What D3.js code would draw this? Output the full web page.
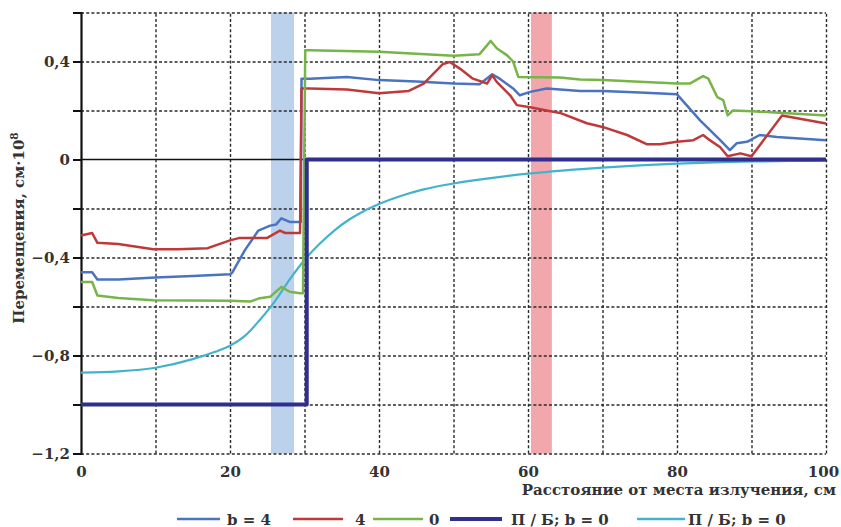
<!DOCTYPE html>
<html>
<head>
<meta charset="utf-8">
<script src="https://cdn.jsdelivr.net/npm/d3@7"></script>
<style>
  body { margin: 0; background: #fff; }
</style>
</head>
<body>
<svg width="841" height="527"></svg>
<script>
// series: [x, displacement]
const seriesB4 = [[0,-0.46],[1.5,-0.46],[2.2,-0.49],[5,-0.49],[10,-0.482],[15,-0.476],[20,-0.468],[20.3,-0.462],[22,-0.37],[23.8,-0.29],[25.4,-0.27],[26.2,-0.265],[26.9,-0.24],[28,-0.255],[29.5,-0.255],[29.6,0.33],[30.7,0.33],[35.7,0.337],[40,0.324],[45,0.318],[50,0.31],[53.5,0.307],[55.2,0.348],[56.2,0.33],[58,0.29],[58.9,0.262],[60.3,0.276],[62.5,0.29],[67,0.28],[70,0.28],[75,0.273],[80,0.266],[83.1,0.16],[85.8,0.079],[87.1,0.038],[88,0.066],[89.4,0.072],[91.1,0.1],[93.4,0.092],[100,0.079]];
const series4 = [[0,-0.31],[1.5,-0.30],[2.2,-0.34],[5,-0.345],[9.7,-0.366],[13,-0.366],[17,-0.362],[20,-0.33],[21.3,-0.32],[25,-0.32],[26.7,-0.29],[27.4,-0.30],[29.4,-0.30],[29.6,0.29],[30.7,0.29],[35.7,0.286],[40,0.27],[44,0.28],[46,0.31],[48.6,0.39],[49.5,0.398],[50.9,0.37],[52.6,0.33],[54.5,0.31],[55.2,0.344],[55.8,0.317],[57.6,0.262],[58.5,0.222],[60.3,0.213],[62.5,0.2],[64.3,0.19],[67.9,0.148],[70,0.133],[73.3,0.1],[76,0.062],[77.7,0.062],[80,0.072],[82.2,0.079],[83.5,0.1],[84.4,0.079],[85.8,0.05],[86.8,0.013],[88.5,0.025],[90,0.013],[94.1,0.18],[100,0.147]];
const series0 = [[0,-0.50],[1.5,-0.50],[2.2,-0.555],[5,-0.565],[9.7,-0.574],[20,-0.577],[22.7,-0.58],[24,-0.566],[25.4,-0.56],[26.9,-0.52],[28,-0.54],[29.4,-0.546],[29.8,-0.546],[30.1,0.446],[30.7,0.446],[40,0.44],[50,0.423],[53.5,0.43],[55,0.484],[55.8,0.454],[57.2,0.425],[58,0.40],[58.7,0.337],[64.3,0.335],[67,0.327],[70,0.324],[80,0.31],[81.7,0.31],[83.5,0.34],[84.2,0.33],[85.4,0.255],[86.2,0.242],[86.8,0.18],[87.5,0.20],[90,0.197],[100,0.18]];
const seriesStep = [[0,-1],[30.3,-1],[30.3,0],[100,0]];
const seriesSmooth = [[0,-0.87],[5,-0.865],[10,-0.85],[15,-0.815],[18,-0.785],[20,-0.76],[22,-0.72],[24,-0.655],[26,-0.58],[28,-0.49],[30,-0.41],[32,-0.345],[34,-0.29],[36,-0.245],[38,-0.21],[40,-0.182],[43,-0.148],[46,-0.122],[50,-0.098],[55,-0.076],[60,-0.058],[65,-0.044],[70,-0.033],[75,-0.024],[80,-0.017],[85,-0.012],[90,-0.008],[95,-0.006],[100,-0.005]];

const bands = [[25.5, 28.6], [60.4, 63.2]];
const bandColors = ['#bcd2ec', '#f2a7ad'];

const legendLabels = ['b = 4', '4', '0', 'П / Б; b = 0', 'П / Б; b = 0'];
const seriesColors = ['#4a74c0', '#c0393a', '#78b548', '#2e2f8e', '#43b3cc'];
const seriesWidths = [2.5, 2.5, 2.5, 4, 2.2];

const yTicks = [-1.2, -1.0, -0.8, -0.6, -0.4, -0.2, 0, 0.2, 0.4, 0.6];
const xTickLabels = [0, 20, 40, 60, 80, 100];

const FONT = 'DejaVu Serif, serif';

const svg = d3.select('svg');
const x = d3.scaleLinear().domain([0, 100]).range([81, 826]);
const y = d3.scaleLinear().domain([-1.2, 0.6]).range([453.5, 12.5]);

const styleText = sel => sel
  .attr('font-family', FONT)
  .attr('font-weight', 'bold')
  .attr('font-size', 15)
  .attr('fill', '#333');

// shaded bands
svg.selectAll('rect.band').data(bands).enter().append('rect')
  .attr('class', 'band')
  .attr('x', d => x(d[0]))
  .attr('width', d => x(d[1]) - x(d[0]))
  .attr('y', y(0.6))
  .attr('height', y(-1.2) - y(0.6))
  .attr('fill', (d, i) => bandColors[i]);

// dashed grid
const gridStyle = g => g.selectAll('line')
  .attr('stroke', '#2a2a2a').attr('stroke-width', 1.4).attr('stroke-dasharray', '3,2.2');

svg.append('g')
  .attr('transform', `translate(0,${y(-1.2)})`)
  .call(d3.axisBottom(x).tickValues(d3.range(10, 101, 10)).tickSize(-(y(-1.2) - y(0.6))).tickFormat(''))
  .call(g => g.select('.domain').remove())
  .call(gridStyle);

svg.append('g')
  .attr('transform', `translate(${x(0)},0)`)
  .call(d3.axisLeft(y).tickValues(yTicks.filter(d => d !== 0)).tickSize(-(x(100) - x(0))).tickFormat(''))
  .call(g => g.select('.domain').remove())
  .call(gridStyle);

// zero line
svg.append('line')
  .attr('x1', x(0)).attr('x2', x(100))
  .attr('y1', y(0)).attr('y2', y(0))
  .attr('stroke', '#111').attr('stroke-width', 1.6);

// y axis with ticks
const fmt = d => {
  const k = Math.round(d * 10);
  if (k % 4 !== 0) return '';
  if (k === 0) return '0';
  return d.toFixed(1).replace('.', ',').replace('-', '−');
};
const yAxisG = svg.append('g')
  .attr('transform', `translate(${x(0)},0)`)
  .call(d3.axisLeft(y).tickValues(yTicks).tickSize(8).tickPadding(3).tickFormat(fmt));
yAxisG.attr('font-family', null).attr('font-size', null);
yAxisG.select('.domain').attr('stroke', '#111').attr('stroke-width', 2.2);
yAxisG.selectAll('line').attr('stroke', '#111').attr('stroke-width', 2);
yAxisG.selectAll('text').call(styleText);

// x tick labels
const xAxisG = svg.append('g')
  .attr('transform', `translate(0,${y(-1.2)})`)
  .call(d3.axisBottom(x).tickValues(xTickLabels).tickSize(0).tickPadding(13));
xAxisG.attr('font-family', null).attr('font-size', null);
xAxisG.select('.domain').remove();
xAxisG.selectAll('text').call(styleText)
  .attr('dx', d => d === 100 ? -3 : 0);

// lines
const line = d3.line().x(d => x(d[0])).y(d => y(d[1]));
const smoothLine = d3.line().x(d => x(d[0])).y(d => y(d[1])).curve(d3.curveMonotoneX);
const allSeries = [seriesB4, series4, series0, seriesStep, seriesSmooth];
const drawOrder = [4, 0, 1, 2, 3];
drawOrder.forEach(i => {
  svg.append('path')
    .datum(allSeries[i])
    .attr('fill', 'none')
    .attr('stroke', seriesColors[i])
    .attr('stroke-width', seriesWidths[i])
    .attr('stroke-linejoin', 'round')
    .attr('d', i === 4 ? smoothLine : line);
});

// axis titles
const yTitle = svg.append('text')
  .attr('transform', 'translate(24,228) rotate(-90)')
  .attr('text-anchor', 'middle')
  .call(styleText)
  .text('Перемещения, см·10');
yTitle.append('tspan').attr('dy', -6).attr('font-size', 10.5).text('8');

svg.append('text')
  .attr('x', 836).attr('y', 495)
  .attr('text-anchor', 'end')
  .call(styleText)
  .text('Расстояние от места излучения, см');

// legend
const legendLineX = [177, 293, 373, 450, 637];
const legendLineLen = [43, 50, 50, 52, 48];
const legendTextX = [227, 355, 429, 511, 688];
const legendY = 519;
legendLabels.forEach((lab, i) => {
  svg.append('line')
    .attr('x1', legendLineX[i]).attr('x2', legendLineX[i] + legendLineLen[i])
    .attr('y1', legendY).attr('y2', legendY)
    .attr('stroke', seriesColors[i])
    .attr('stroke-width', i === 3 ? 4 : 2.5);
  svg.append('text')
    .attr('x', legendTextX[i])
    .attr('y', legendY + 5.5)
    .call(styleText)
    .text(lab);
});
</script>
</body>
</html>
